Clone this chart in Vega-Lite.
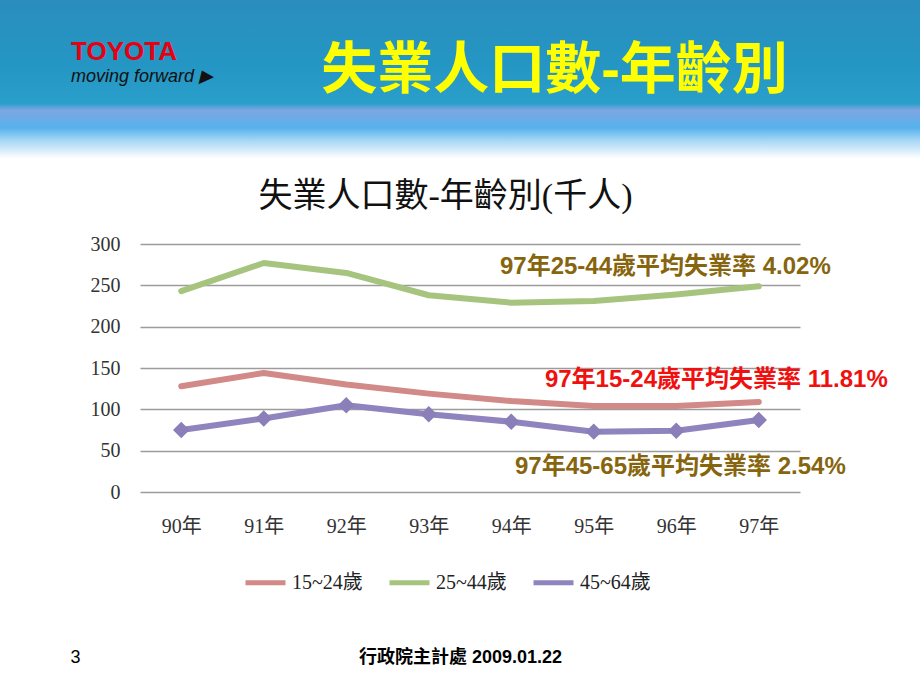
{
  "$schema": "https://vega.github.io/schema/vega-lite/v6.json",
  "width": 920,
  "height": 690,
  "autosize": "none",
  "padding": 0,
  "background": "white",
  "config": {
    "view": {
      "stroke": null,
      "fill": {
        "gradient": "linear",
        "x1": 0, "y1": 0, "x2": 0, "y2": 1,
        "stops": [
          {"offset": 0, "color": "#2a8dbd"},
          {"offset": 0.1, "color": "#2497c4"},
          {"offset": 0.15, "color": "#2b9fcb"},
          {"offset": 0.16, "color": "#7ea6e2"},
          {"offset": 0.185, "color": "#55b2ec"},
          {"offset": 0.205, "color": "#acd9f6"},
          {"offset": 0.23, "color": "#ffffff"},
          {"offset": 1, "color": "#ffffff"}
        ]
      }
    },
    "font": "Liberation Sans, Noto Sans CJK TC"
  },
  "title": {
    "text": "TOYOTA",
    "subtitle": "moving forward ▶",
    "anchor": "start",
    "frame": "group",
    "orient": "top",
    "dx": 71,
    "offset": -86,
    "color": "#E60012",
    "font": "Liberation Sans",
    "fontSize": 26,
    "fontWeight": "bold",
    "subtitleColor": "#111111",
    "subtitleFont": "Liberation Sans Narrow, Liberation Sans",
    "subtitleFontSize": 18,
    "subtitleFontStyle": "italic",
    "subtitlePadding": 3
  },
  "data": {
    "values": [
      {"年": "90年", "組": "15~24歲", "人數": 128},
      {"年": "91年", "組": "15~24歲", "人數": 144},
      {"年": "92年", "組": "15~24歲", "人數": 130},
      {"年": "93年", "組": "15~24歲", "人數": 119},
      {"年": "94年", "組": "15~24歲", "人數": 110},
      {"年": "95年", "組": "15~24歲", "人數": 104},
      {"年": "96年", "組": "15~24歲", "人數": 104},
      {"年": "97年", "組": "15~24歲", "人數": 109},
      {"年": "90年", "組": "25~44歲", "人數": 243},
      {"年": "91年", "組": "25~44歲", "人數": 277},
      {"年": "92年", "組": "25~44歲", "人數": 265},
      {"年": "93年", "組": "25~44歲", "人數": 238},
      {"年": "94年", "組": "25~44歲", "人數": 229},
      {"年": "95年", "組": "25~44歲", "人數": 231},
      {"年": "96年", "組": "25~44歲", "人數": 239},
      {"年": "97年", "組": "25~44歲", "人數": 249},
      {"年": "90年", "組": "45~64歲", "人數": 75},
      {"年": "91年", "組": "45~64歲", "人數": 89},
      {"年": "92年", "組": "45~64歲", "人數": 105},
      {"年": "93年", "組": "45~64歲", "人數": 94},
      {"年": "94年", "組": "45~64歲", "人數": 85},
      {"年": "95年", "組": "45~64歲", "人數": 73},
      {"年": "96年", "組": "45~64歲", "人數": 74},
      {"年": "97年", "組": "45~64歲", "人數": 87}
    ]
  },
  "layer": [
    {
      "mark": {"type": "line", "strokeWidth": 6, "strokeCap": "round", "strokeJoin": "round"},
      "encoding": {
        "x": {
          "field": "年", "type": "ordinal",
          "scale": {"type": "point", "range": [140, 800], "padding": 0.5},
          "axis": {
            "orient": "bottom", "offset": -198, "ticks": false, "domain": false, "grid": false,
            "labelAngle": 0, "labelPadding": 24, "labelFontSize": 20,
            "labelFont": "Liberation Serif, Noto Sans CJK TC", "labelColor": "#333333",
            "title": "行政院主計處 2009.01.22",
            "titleX": 460, "titleY": 165, "titleAlign": "center", "titleBaseline": "middle",
            "titleFontSize": 18, "titleFontWeight": "bold", "titleColor": "#000000",
            "titleFont": "Liberation Sans, Noto Sans CJK TC"
          }
        },
        "y": {
          "field": "人數", "type": "quantitative",
          "scale": {"domain": [0, 300], "range": [492, 244], "nice": false},
          "axis": {
            "orient": "left", "offset": -140, "ticks": false, "domain": false,
            "values": [0, 50, 100, 150, 200, 250, 300],
            "labelPadding": 20, "labelFontSize": 20,
            "labelFont": "Liberation Serif", "labelColor": "#333333",
            "grid": true, "gridColor": "#9c9c9c", "gridWidth": 1.6,
            "title": "3", "titleAngle": 0, "titleX": -65, "titleY": 657,
            "titleAlign": "center", "titleBaseline": "middle",
            "titleFontSize": 18, "titleFontWeight": "normal", "titleColor": "#000000",
            "titleFont": "Liberation Sans"
          }
        },
        "color": {
          "field": "組", "type": "nominal",
          "scale": {"domain": ["15~24歲", "25~44歲", "45~64歲"], "range": ["#D18A88", "#A6C47E", "#8F84BD"]},
          "legend": {
            "orient": "none", "legendX": 243, "legendY": 560, "direction": "horizontal",
            "title": null, "symbolType": "stroke", "symbolSize": 1600, "symbolStrokeWidth": 5,
            "labelFontSize": 20, "labelFont": "Liberation Serif, Noto Sans CJK TC",
            "labelColor": "#222222", "columnPadding": 16, "labelOffset": 4
          }
        }
      }
    },
    {
      "transform": [{"filter": "datum['組'] === '45~64歲'"}],
      "mark": {"type": "point", "shape": "diamond", "filled": true, "size": 270, "color": "#8A7FB9", "opacity": 1},
      "encoding": {
        "x": {
          "field": "年", "type": "ordinal",
          "axis": {
            "orient": "top", "labels": false, "ticks": false, "domain": false, "grid": false,
            "title": "失業人口數-年齡別(千人)",
            "titleX": 445, "titleY": 196, "titleAlign": "center", "titleBaseline": "middle",
            "titleFontSize": 34, "titleFontWeight": "normal", "titleColor": "#111111",
            "titleFont": "Liberation Serif, Noto Sans CJK TC"
          }
        },
        "y": {
          "field": "人數", "type": "quantitative",
          "axis": {
            "orient": "right", "labels": false, "ticks": false, "domain": false, "grid": false,
            "title": "失業人口數-年齡別",
            "titleAngle": 0, "titleX": -366, "titleY": 70, "titleAlign": "center", "titleBaseline": "middle",
            "titleFontSize": 56, "titleFontWeight": "bold", "titleColor": "#FFFF00",
            "titleFont": "Liberation Sans, Noto Sans CJK TC"
          }
        }
      }
    },
    {
      "transform": [{"filter": "datum['組'] === '25~44歲' && datum['年'] === '97年'"}],
      "mark": {"type": "text", "align": "right", "baseline": "middle", "dx": 72, "dy": -19,
               "fontSize": 24, "fontWeight": "bold", "color": "#86650E", "font": "Liberation Sans, Noto Sans CJK TC"},
      "encoding": {
        "x": {"field": "年", "type": "ordinal", "axis": null},
        "y": {"field": "人數", "type": "quantitative", "axis": null},
        "text": {"value": "97年25-44歲平均失業率 4.02%"}
      }
    },
    {
      "transform": [{"filter": "datum['組'] === '15~24歲' && datum['年'] === '97年'"}],
      "mark": {"type": "text", "align": "right", "baseline": "middle", "dx": 129, "dy": -22,
               "fontSize": 24, "fontWeight": "bold", "color": "#F01010", "font": "Liberation Sans, Noto Sans CJK TC"},
      "encoding": {
        "x": {"field": "年", "type": "ordinal", "axis": null},
        "y": {"field": "人數", "type": "quantitative", "axis": null},
        "text": {"value": "97年15-24歲平均失業率 11.81%"}
      }
    },
    {
      "transform": [{"filter": "datum['組'] === '45~64歲' && datum['年'] === '97年'"}],
      "mark": {"type": "text", "align": "right", "baseline": "middle", "dx": 87, "dy": 47,
               "fontSize": 24, "fontWeight": "bold", "color": "#86650E", "font": "Liberation Sans, Noto Sans CJK TC"},
      "encoding": {
        "x": {"field": "年", "type": "ordinal", "axis": null},
        "y": {"field": "人數", "type": "quantitative", "axis": null},
        "text": {"value": "97年45-65歲平均失業率 2.54%"}
      }
    }
  ],
  "resolve": {"axis": {"x": "independent", "y": "independent"}}
}
